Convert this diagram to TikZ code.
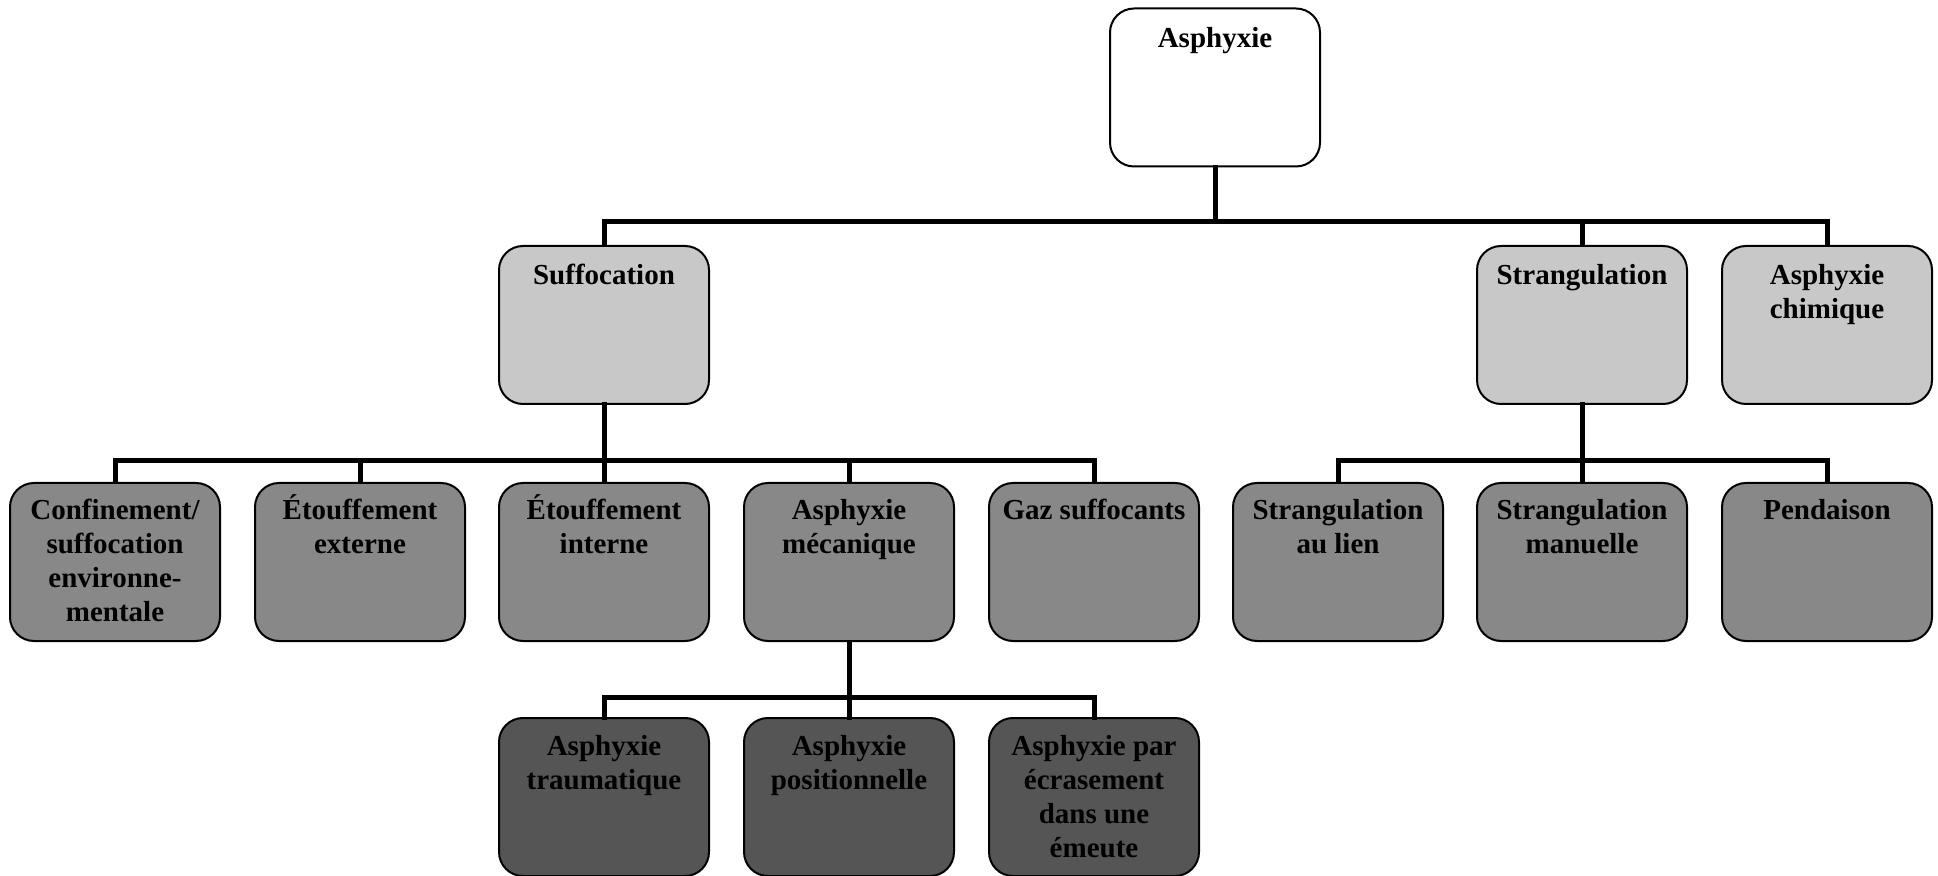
\documentclass[tikz,border=0pt]{standalone}
\usepackage{fontspec}
\setmainfont{Liberation Serif}
\definecolor{tierA}{RGB}{200,200,200}
\definecolor{tierB}{RGB}{136,136,136}
\definecolor{tierC}{RGB}{85,85,85}
% box caption, centred, first baseline on the anchor
\newcommand\capn[1]{\parbox[t]{104pt}{\centering #1}}
\begin{document}
\begin{tikzpicture}[x=0.5pt,y=-0.5pt,
  box/.style={draw=black, line width=1pt, rounded corners=12pt,
    minimum width=105pt, minimum height=79pt, inner sep=0pt},
  top/.style={box, fill=white},
  lvla/.style={box, fill=tierA},
  lvlb/.style={box, fill=tierB},
  lvlc/.style={box, fill=tierC},
  txt/.style={anchor=base, inner sep=0pt, text=black,
    font=\bfseries\fontsize{14.5}{17}\selectfont},
  link/.style={line width=2.5pt, line join=miter, line cap=rect}]
\useasboundingbox (0,0) rectangle (1938,876);

% root
\node[top] (root) at (1215,87.5) {};
% first tier
\node[lvla] (suf) at (604,325) {};
\node[lvla] (str) at (1582,325) {};
\node[lvla] (chi) at (1827,325) {};
% second tier
\node[lvlb] (conf) at (115,562) {};
\node[lvlb] (etex) at (360,562) {};
\node[lvlb] (etin) at (604,562) {};
\node[lvlb] (meca) at (849,562) {};
\node[lvlb] (gaz)  at (1094,562) {};
\node[lvlb] (lien) at (1338,562) {};
\node[lvlb] (man)  at (1582,562) {};
\node[lvlb] (pend) at (1827,562) {};
% third tier
\node[lvlc] (trau) at (604,797) {};
\node[lvlc] (posi) at (849,797) {};
\node[lvlc] (emeu) at (1094,797) {};

% captions
\node[txt] (troot) at ([yshift=-20pt]root.north) {\capn{Asphyxie}};
\node[txt] (tsuf) at ([yshift=-20pt]suf.north) {\capn{Suffocation}};
\node[txt] (tstr) at ([yshift=-20pt]str.north) {\capn{Strangulation}};
\node[txt] (tchi) at ([yshift=-20pt]chi.north) {\capn{Asphyxie\\chimique}};
\node[txt] (tconf) at ([yshift=-19pt]conf.north) {\capn{Confinement/\\suffocation\\environne-\\mentale}};
\node[txt] (tetex) at ([yshift=-19pt]etex.north) {\capn{Étouffement\\externe}};
\node[txt] (tetin) at ([yshift=-19pt]etin.north) {\capn{Étouffement\\interne}};
\node[txt] (tmeca) at ([yshift=-19pt]meca.north) {\capn{Asphyxie\\mécanique}};
\node[txt] (tgaz) at ([yshift=-19pt]gaz.north) {\capn{Gaz suffocants}};
\node[txt] (tlien) at ([yshift=-19pt]lien.north) {\capn{Strangulation\\au lien}};
\node[txt] (tman) at ([yshift=-19pt]man.north) {\capn{Strangulation\\manuelle}};
\node[txt] (tpend) at ([yshift=-19pt]pend.north) {\capn{Pendaison}};
\node[txt] (ttrau) at ([yshift=-19pt]trau.north) {\capn{Asphyxie\\traumatique}};
\node[txt] (tposi) at ([yshift=-19pt]posi.north) {\capn{Asphyxie\\positionnelle}};
\node[txt] (temeu) at ([yshift=-19pt]emeu.north) {\capn{Asphyxie par\\écrasement\\dans une\\émeute}};

% bus lines
\coordinate (busa) at (0,222);
\coordinate (busb) at (0,461);
\coordinate (busc) at (0,697);

\draw[link] (root.south) -- (root.south |- busa);
\draw[link] (suf.north) -- (suf.north |- busa) -- (chi.north |- busa) -- (chi.north);
\draw[link] (str.north) -- (str.north |- busa);

\draw[link] (suf.south) -- (suf.south |- busb);
\draw[link] (conf.north) -- (conf.north |- busb) -- (gaz.north |- busb) -- (gaz.north);
\draw[link] (etex.north) -- (etex.north |- busb);
\draw[link] (etin.north) -- (etin.north |- busb);
\draw[link] (meca.north) -- (meca.north |- busb);

\draw[link] (str.south) -- (str.south |- busb);
\draw[link] (lien.north) -- (lien.north |- busb) -- (pend.north |- busb) -- (pend.north);
\draw[link] (man.north) -- (man.north |- busb);

\draw[link] (meca.south) -- (meca.south |- busc);
\draw[link] (trau.north) -- (trau.north |- busc) -- (emeu.north |- busc) -- (emeu.north);
\draw[link] (posi.north) -- (posi.north |- busc);
\end{tikzpicture}
\end{document}
